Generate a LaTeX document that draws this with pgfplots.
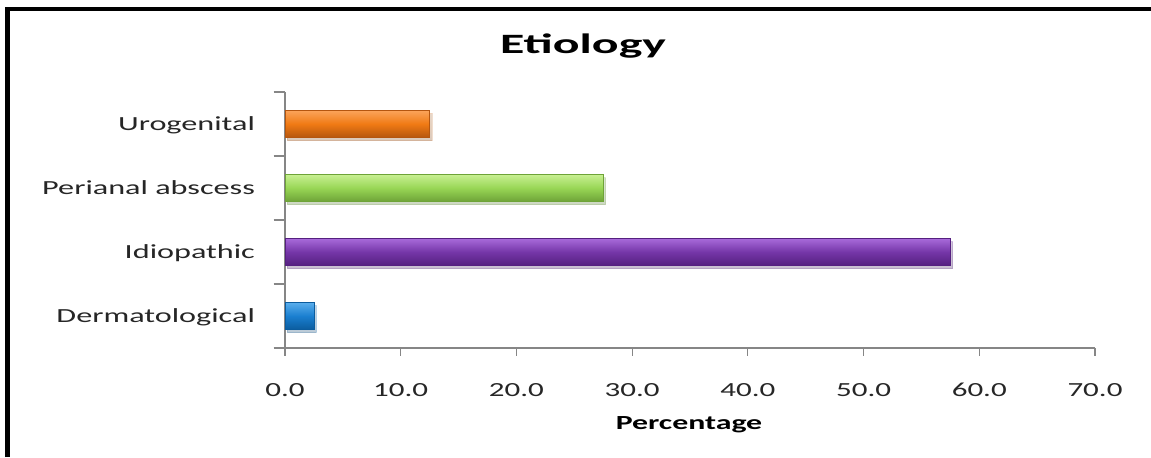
\documentclass[border=0pt]{standalone}
\usepackage{fontspec}
\setmainfont{Carlito}
\usepackage{pgfplots}
\pgfplotsset{compat=1.18}
\usetikzlibrary{shadows}

% wide setting of the labels
\newcommand\sx[1]{\scalebox{1.55}[1]{#1}}
\newcommand\sy[1]{\scalebox{1.61}[1]{#1}}

\definecolor{axisgray}{HTML}{868686}
\definecolor{txt}{HTML}{262626}
\definecolor{blueB}{HTML}{1A7FD0}\definecolor{blueL}{HTML}{5AAEEC}\definecolor{blueD}{HTML}{0B5C9E}
\definecolor{purB}{HTML}{7536A8}\definecolor{purL}{HTML}{A86ADA}\definecolor{purD}{HTML}{552080}
\definecolor{grnB}{HTML}{98D655}\definecolor{grnL}{HTML}{C8F092}\definecolor{grnD}{HTML}{6EA338}
\definecolor{orgB}{HTML}{F07A14}\definecolor{orgL}{HTML}{FBA45A}\definecolor{orgD}{HTML}{B5560F}

\begin{document}
\begin{tikzpicture}
\path[use as bounding box, fill=white] (0,0) rectangle (575.5pt,228.5pt);
% frame on the left and top
\draw[line width=2.3pt] (3.75pt,0) -- (3.75pt,224pt) -- (575.5pt,224pt);

\node[anchor=base, font=\fontsize{14}{16}\selectfont\bfseries, text=black] at (291.5pt,201.85pt) {\scalebox{1.78}[1]{Etiology}};
\node[anchor=base, font=\fontsize{10}{12}\selectfont\bfseries, text=black] at (344.5pt,13.85pt) {\scalebox{1.59}[1]{Percentage}};

\begin{axis}[
  at={(142.5pt,54.5pt)}, anchor=south west,
  scale only axis, width=405pt, height=128pt,
  xmin=0, xmax=70, ymin=-0.5, ymax=3.5,
  xbar, bar width=13.5pt, bar shift=0pt,
  axis lines*=left,
  axis line style={axisgray, line width=0.6pt},
  tick align=outside,
  major tick length=3.85pt, minor tick length=5.75pt,
  every tick/.style={axisgray, line width=0.6pt},
  xtick={0,10,...,70},
  xticklabels={\sx{0.0},\sx{10.0},\sx{20.0},\sx{30.0},\sx{40.0},\sx{50.0},\sx{60.0},\sx{70.0}},
  ytick={0,1,2,3},
  yticklabels={\sy{Dermatological},\sy{Idiopathic},\sy{Perianal abscess},\sy{Urogenital}},
  major y tick style={draw=none},
  minor ytick={-0.5,0.5,1.5,2.5,3.5},
  ticklabel style={font=\fontsize{10}{12}\selectfont, text=txt, inner sep=0pt},
  xticklabel style={anchor=base, yshift=-20.35pt},
  yticklabel style={anchor=base east, xshift=-11pt, yshift=-3.25pt},
  bar3d/.style={draw=#1D, line width=0.4pt,
    top color=#1L, bottom color=#1D, middle color=#1B,
    drop shadow={opacity=0.18, fill=black!60, shadow xshift=1.2pt, shadow yshift=-1.5pt}},
]
\addplot[bar3d=blue] coordinates {(2.5,0)};
\addplot[bar3d=pur] coordinates {(57.5,1)};
\addplot[bar3d=grn] coordinates {(27.5,2)};
\addplot[bar3d=org] coordinates {(12.5,3)};
\end{axis}
\end{tikzpicture}
\end{document}
